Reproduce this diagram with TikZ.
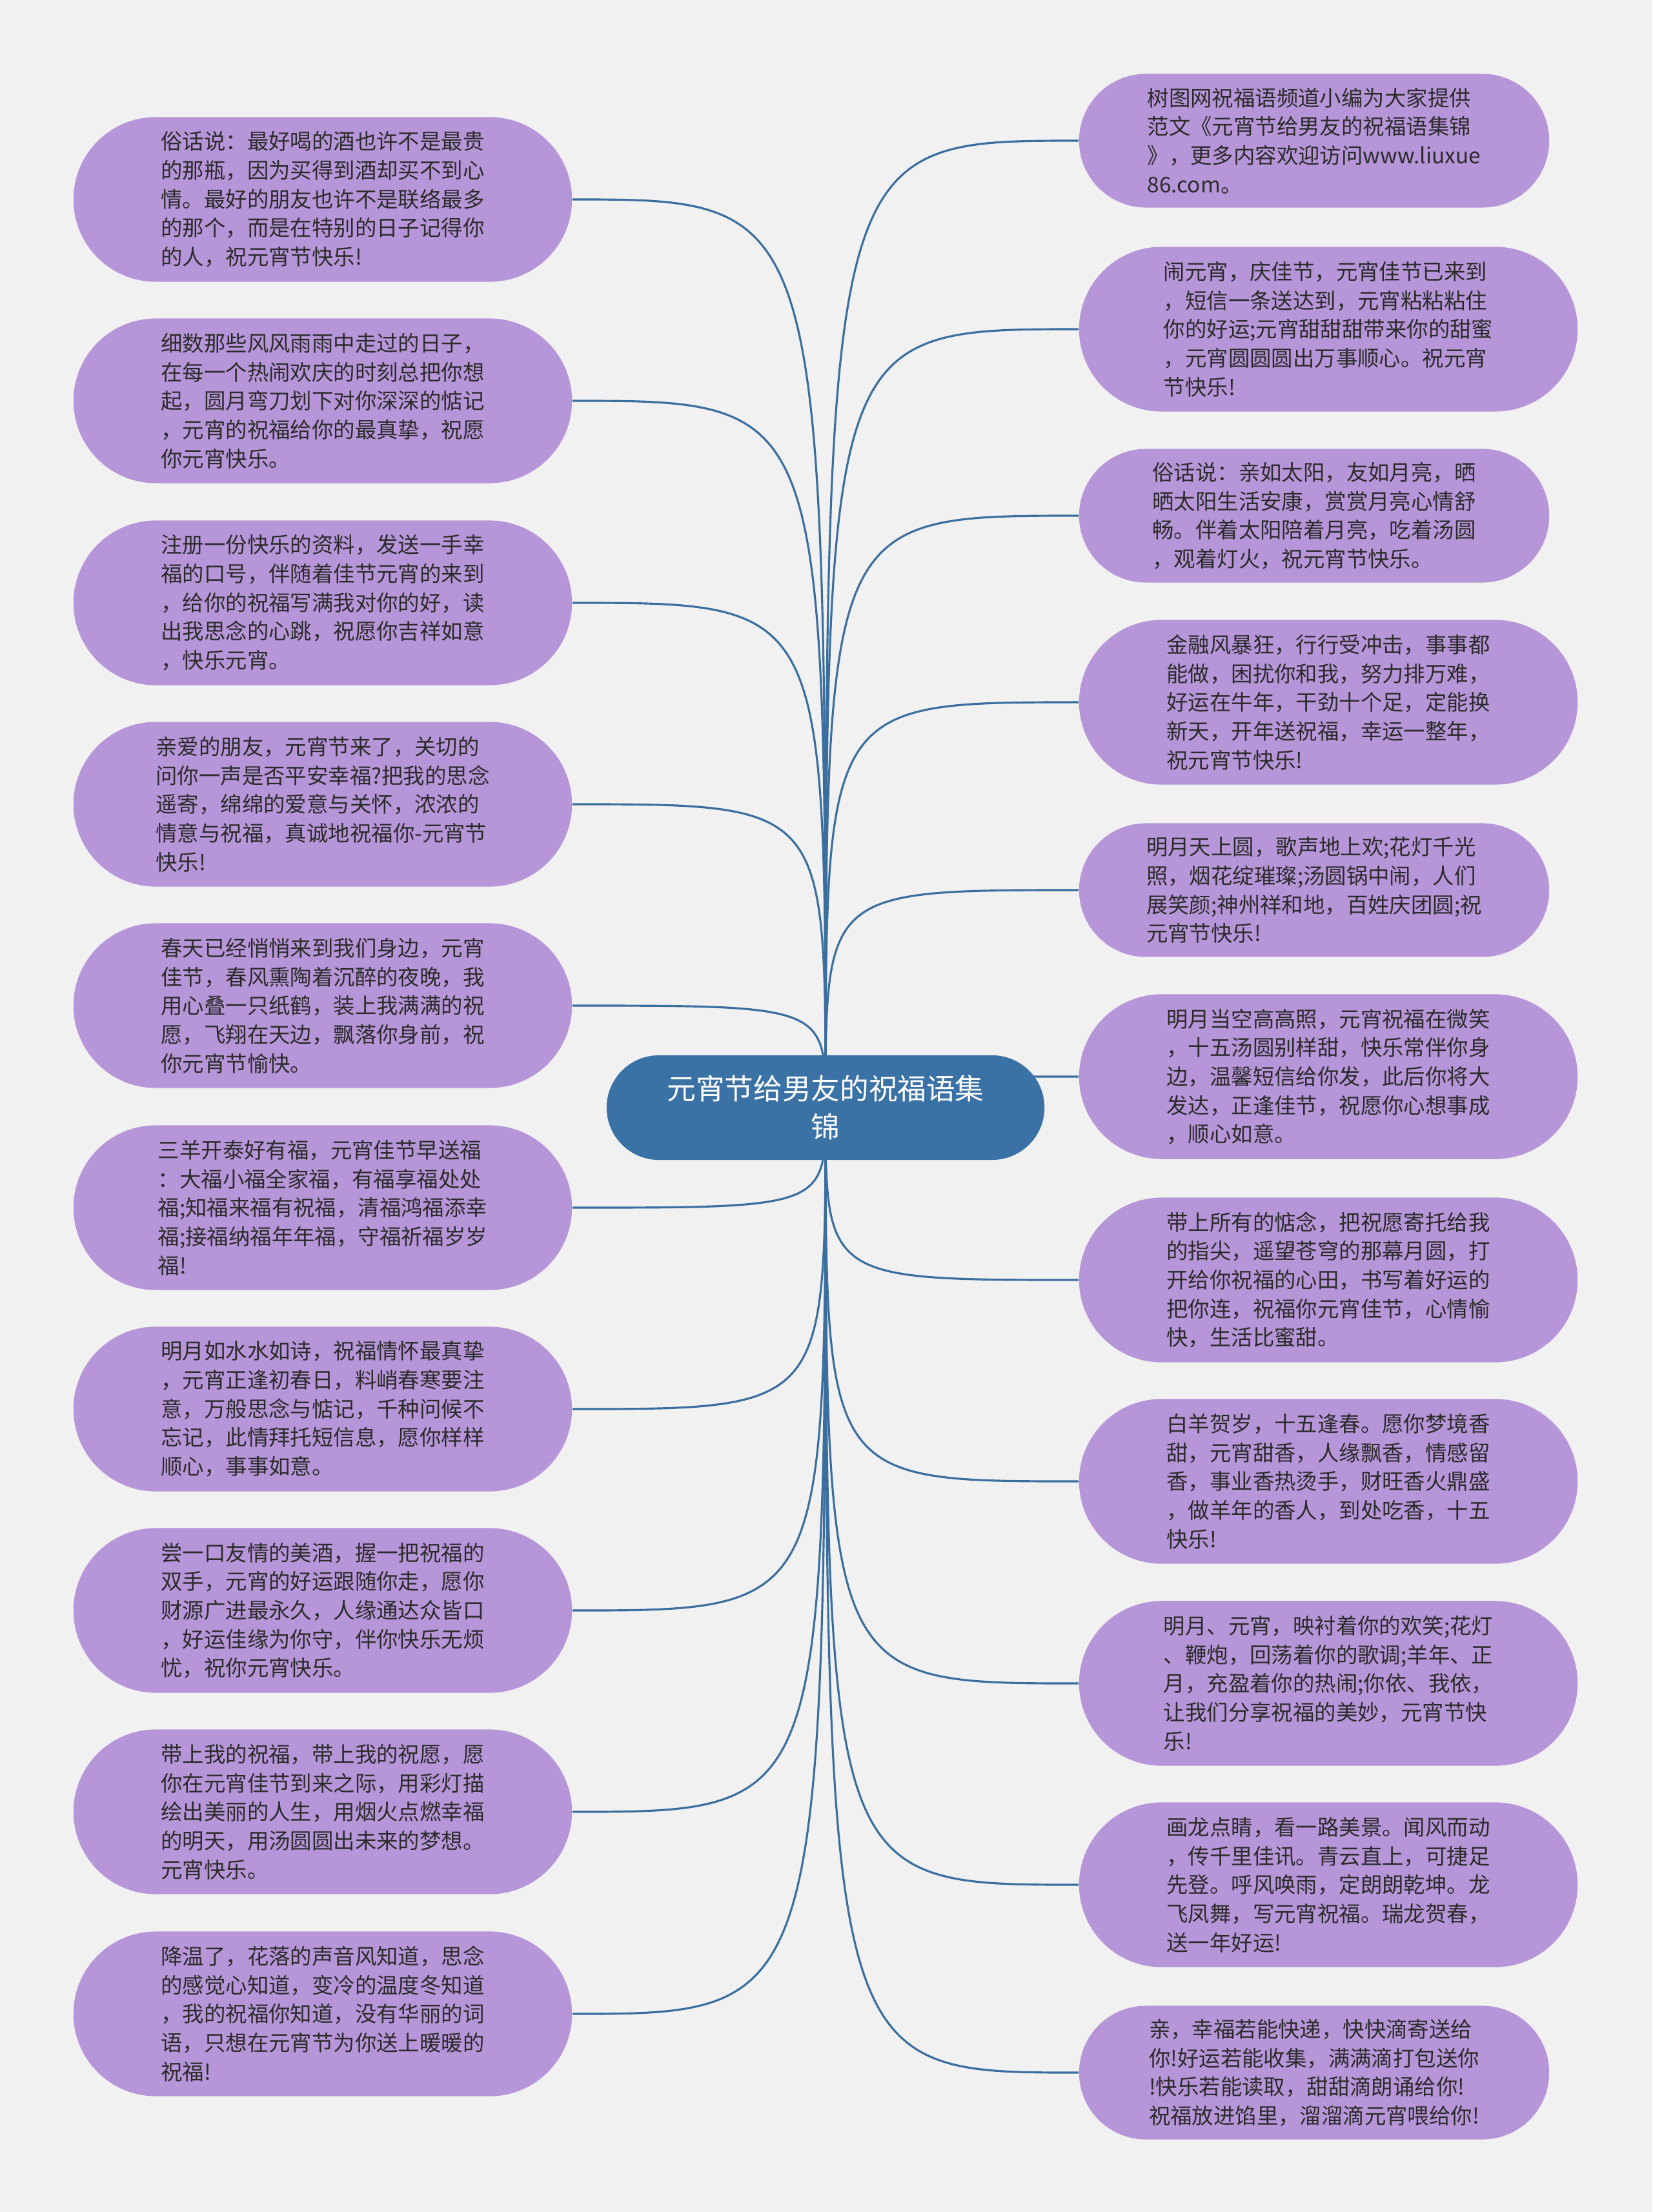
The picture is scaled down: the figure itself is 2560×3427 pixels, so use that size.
\documentclass[tikz,border=0pt]{standalone}
\usepackage{fontspec}
\setmainfont{Noto Sans CJK SC}
\usepackage{tikz}
\usepackage{xcolor}
\usetikzlibrary{positioning, shapes.misc, backgrounds}

\definecolor{pagebg}{HTML}{F1F1F1}
\definecolor{wishfill}{HTML}{B696D8}
\definecolor{topicfill}{HTML}{3B72A6}
\definecolor{linkblue}{HTML}{3A6E9E}
\definecolor{inkgray}{HTML}{2B2B2B}

\begin{document}
\begin{tikzpicture}[x=0.01cm, y=-0.01cm,
    wish/.style={rounded rectangle, fill=wishfill, text=inkgray, inner sep=0pt,
        align=left, minimum width=7.72cm, minimum height=2.55cm,
        font=\fontsize{9.5pt}{12.7pt}\selectfont},
    wishshort/.style={wish, minimum width=7.28cm, minimum height=2.07cm},
    topic/.style={rounded rectangle, fill=topicfill, text=white, inner sep=0pt,
        align=center, minimum width=6.78cm, minimum height=1.62cm,
        font=\fontsize{12.7pt}{16.8pt}\selectfont},
    link/.style={draw=linkblue, line width=0.9pt}]

    % Central topic
    \node[topic] (root) at (1279,1716) {元宵节给男友的祝福语集\\锦};

    % Left column
    \node[wish] (l1) at (500,309) {俗话说：最好喝的酒也许不是最贵\\的那瓶，因为买得到酒却买不到心\\情。最好的朋友也许不是联络最多\\的那个，而是在特别的日子记得你\\的人，祝元宵节快乐!};
    \node[wish] (l2) at (500,621) {细数那些风风雨雨中走过的日子，\\在每一个热闹欢庆的时刻总把你想\\起，圆月弯刀划下对你深深的惦记\\，元宵的祝福给你的最真挚，祝愿\\你元宵快乐。};
    \node[wish] (l3) at (500,934) {注册一份快乐的资料，发送一手幸\\福的口号，伴随着佳节元宵的来到\\，给你的祝福写满我对你的好，读\\出我思念的心跳，祝愿你吉祥如意\\，快乐元宵。};
    \node[wish] (l4) at (500,1246) {亲爱的朋友，元宵节来了，关切的\\问你一声是否平安幸福?把我的思念\\遥寄，绵绵的爱意与关怀，浓浓的\\情意与祝福，真诚地祝福你-元宵节\\快乐!};
    \node[wish] (l5) at (500,1558) {春天已经悄悄来到我们身边，元宵\\佳节，春风熏陶着沉醉的夜晚，我\\用心叠一只纸鹤，装上我满满的祝\\愿，飞翔在天边，飘落你身前，祝\\你元宵节愉快。};
    \node[wish] (l6) at (500,1871) {三羊开泰好有福，元宵佳节早送福\\：大福小福全家福，有福享福处处\\福;知福来福有祝福，清福鸿福添幸\\福;接福纳福年年福，守福祈福岁岁\\福!};
    \node[wish] (l7) at (500,2183) {明月如水水如诗，祝福情怀最真挚\\，元宵正逢初春日，料峭春寒要注\\意，万般思念与惦记，千种问候不\\忘记，此情拜托短信息，愿你样样\\顺心，事事如意。};
    \node[wish] (l8) at (500,2495) {尝一口友情的美酒，握一把祝福的\\双手，元宵的好运跟随你走，愿你\\财源广进最永久，人缘通达众皆口\\，好运佳缘为你守，伴你快乐无烦\\忧，祝你元宵快乐。};
    \node[wish] (l9) at (500,2807) {带上我的祝福，带上我的祝愿，愿\\你在元宵佳节到来之际，用彩灯描\\绘出美丽的人生，用烟火点燃幸福\\的明天，用汤圆圆出未来的梦想。\\元宵快乐。};
    \node[wish] (l10) at (500,3120) {降温了，花落的声音风知道，思念\\的感觉心知道，变冷的温度冬知道\\，我的祝福你知道，没有华丽的词\\语，只想在元宵节为你送上暖暖的\\祝福!};

    % Right column
    \node[wishshort] (r1) at (2036,218) {树图网祝福语频道小编为大家提供\\范文《元宵节给男友的祝福语集锦\\》，更多内容欢迎访问www.liuxue\\86.com。};
    \node[wish] (r2) at (2058,510) {闹元宵，庆佳节，元宵佳节已来到\\，短信一条送达到，元宵粘粘粘住\\你的好运;元宵甜甜甜带来你的甜蜜\\，元宵圆圆圆出万事顺心。祝元宵\\节快乐!};
    \node[wishshort] (r3) at (2036,799) {俗话说：亲如太阳，友如月亮，晒\\晒太阳生活安康，赏赏月亮心情舒\\畅。伴着太阳陪着月亮，吃着汤圆\\，观着灯火，祝元宵节快乐。};
    \node[wish] (r4) at (2058,1088) {金融风暴狂，行行受冲击，事事都\\能做，困扰你和我，努力排万难，\\好运在牛年，干劲十个足，定能换\\新天，开年送祝福，幸运一整年，\\祝元宵节快乐!};
    \node[wishshort] (r5) at (2036,1379) {明月天上圆，歌声地上欢;花灯千光\\照，烟花绽璀璨;汤圆锅中闹，人们\\展笑颜;神州祥和地，百姓庆团圆;祝\\元宵节快乐!};
    \node[wish] (r6) at (2058,1668) {明月当空高高照，元宵祝福在微笑\\，十五汤圆别样甜，快乐常伴你身\\边，温馨短信给你发，此后你将大\\发达，正逢佳节，祝愿你心想事成\\，顺心如意。};
    \node[wish] (r7) at (2058,1983) {带上所有的惦念，把祝愿寄托给我\\的指尖，遥望苍穹的那幕月圆，打\\开给你祝福的心田，书写着好运的\\把你连，祝福你元宵佳节，心情愉\\快，生活比蜜甜。};
    \node[wish] (r8) at (2058,2295) {白羊贺岁，十五逢春。愿你梦境香\\甜，元宵甜香，人缘飘香，情感留\\香，事业香热烫手，财旺香火鼎盛\\，做羊年的香人，到处吃香，十五\\快乐!};
    \node[wish] (r9) at (2058,2608) {明月、元宵，映衬着你的欢笑;花灯\\、鞭炮，回荡着你的歌调;羊年、正\\月，充盈着你的热闹;你依、我依，\\让我们分享祝福的美妙，元宵节快\\乐!};
    \node[wish] (r10) at (2058,2920) {画龙点睛，看一路美景。闻风而动\\，传千里佳讯。青云直上，可捷足\\先登。呼风唤雨，定朗朗乾坤。龙\\飞凤舞，写元宵祝福。瑞龙贺春，\\送一年好运!};
    \node[wishshort] (r11) at (2036,3211) {亲，幸福若能快递，快快滴寄送给\\你!好运若能收集，满满滴打包送你\\!快乐若能读取，甜甜滴朗诵给你!\\祝福放进馅里，溜溜滴元宵喂给你!};

    % Page and branches behind the nodes
    \begin{scope}[on background layer]
        \fill[pagebg] (0,0) rectangle (2560,3427);
        \foreach \i in {1,...,10}
            \draw[link] (root.center) .. controls (root.center |- l\i.east) .. (l\i.east);
        \foreach \i in {1,...,11}
            \draw[link] (root.center) .. controls (root.center |- r\i.west) .. (r\i.west);
    \end{scope}
\end{tikzpicture}
\end{document}
